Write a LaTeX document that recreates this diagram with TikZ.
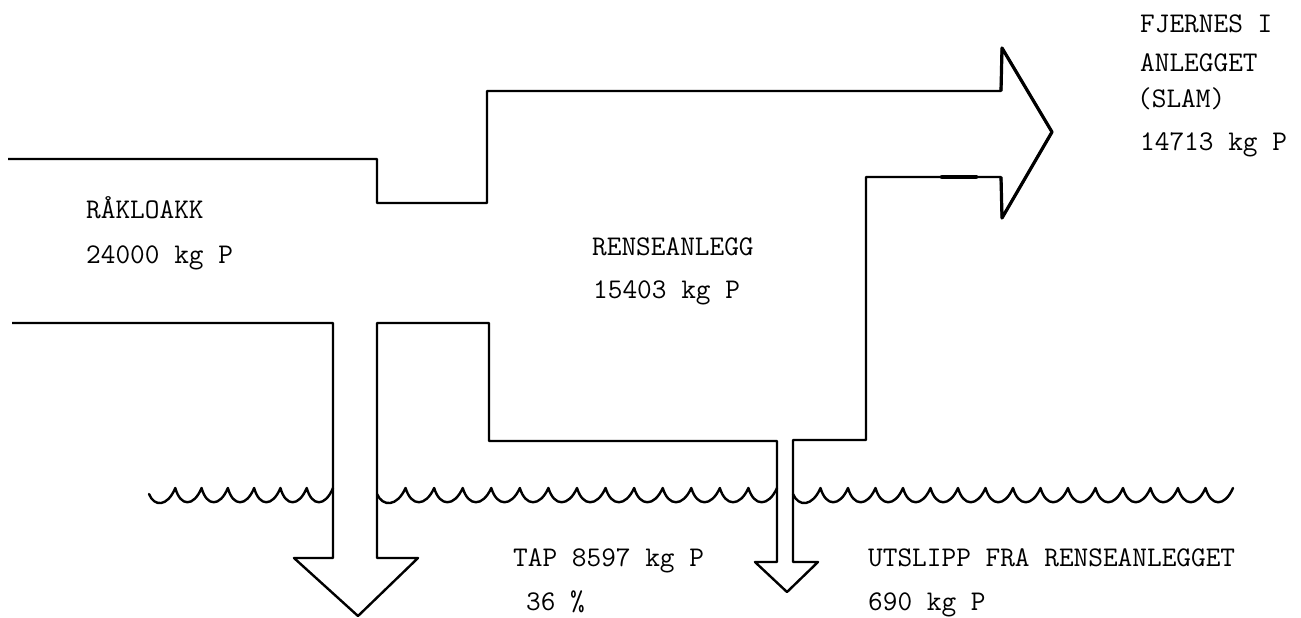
\documentclass[tikz,border=0pt]{standalone}
\usepackage{fontspec}
\begin{document}
\begin{tikzpicture}[x=1pt,y=-1pt,
  outline/.style={line width=2.4pt,line join=round},
  headline/.style={line width=3.2pt,line join=round},
  wave/.style={line width=2.4pt,line cap=round,line join=round},
  lbl/.style={anchor=base west,inner sep=0pt,font=\ttfamily\fontsize{28.5}{34}\selectfont}]
  \useasboundingbox (0,0) rectangle (1301,618);
  % Raw sewage channel, plant, sludge arrow, plant outlet and loss arrow.
  \draw[outline] (8,159) -- (377,159) -- (377,203) -- (487,203) -- (487,91) -- (1001,91)
    -- (1002,48) -- (1052,132) -- (1002,218) -- (1001,177) -- (866,177) -- (866,440)
    -- (793,440) -- (793,562) -- (818,562) -- (787,592) -- (755,562) -- (777,562)
    -- (777,441) -- (489,441) -- (489,323) -- (377,323) -- (377,558) -- (418,558)
    -- (358,616) -- (294,558) -- (333,558) -- (333,323) -- (12,323);
  % Heavier stroke on the sludge arrow head.
  \draw[headline] (1001,91) -- (1002,48) -- (1052,132) -- (1002,218) -- (1001,177);
  \draw[line width=4.5pt,line cap=round] (942,177) -- (976,177);
  % Water surface between the shafts.
  \foreach \a/\b/\n in {149/333/7,377/777/14,793/1233/16} {
    \pgfmathsetmacro{\p}{(\b-\a)/\n}
    \draw[wave] (\a,494) \foreach \k in {1,...,\n} {
      .. controls ({\a+(\k-0.8)*\p},507) and ({\a+(\k-0.3)*\p},507) .. ({\a+\k*\p},488)};
  }
  % Labels.
  \node[lbl] (raw)     at (86,218)   {RÅKLOAKK};
  \node[lbl] (rawkg)   at (86,263)   {24000 kg P};
  \node[lbl] (plant)   at (592,255)  {RENSEANLEGG};
  \node[lbl] (plantkg) at (593,298)  {15403 kg P};
  \node[lbl] (slam)    at (1140,33)  {FJERNES  I};
  \node[lbl] (slamb)   at (1140,72)  {ANLEGGET};
  \node[lbl] (slamc)   at (1137,107) {(SLAM)};
  \node[lbl] (slamkg)  at (1140,150) {14713 kg P};
  \node[lbl] (tap)     at (513,566)  {TAP 8597 kg P};
  \node[lbl] (tappct)  at (526,610)  {36 \%};
  \node[lbl] (outlet)  at (868,566)  {UTSLIPP FRA RENSEANLEGGET};
  \node[lbl] (outkg)   at (868,610)  {690 kg P};
\end{tikzpicture}
\end{document}
